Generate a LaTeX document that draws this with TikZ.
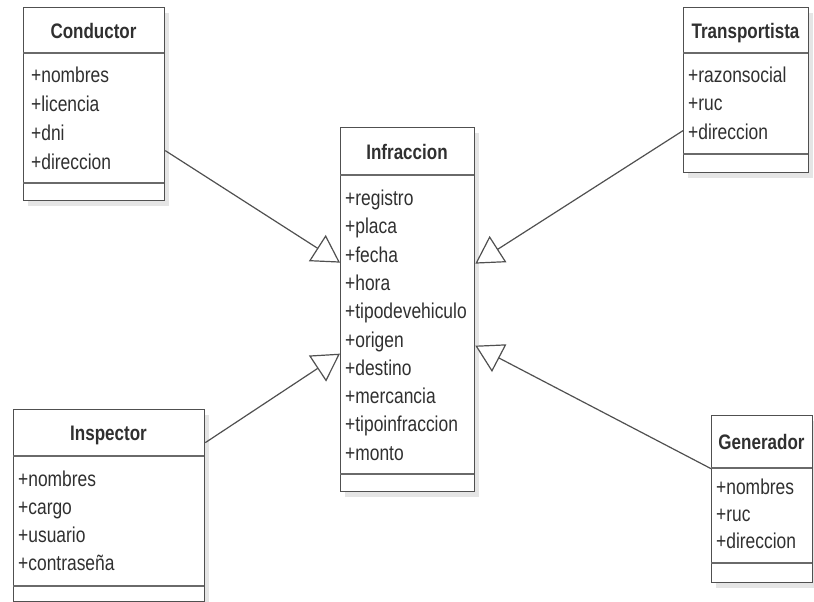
\documentclass[tikz,border=0pt]{standalone}
\usepackage{fontspec}
\setmainfont{Liberation Sans}[FakeStretch=0.81]
\usetikzlibrary{arrows.meta,shadows}
\definecolor{edgec}{HTML}{505050}
\definecolor{txtc}{HTML}{303030}
\begin{document}
\begin{tikzpicture}[x=1pt,y=-1pt,
  cls/.style={draw=edgec, line width=1.3pt, fill=white, anchor=north west, inner sep=0pt,
    drop shadow={shadow xshift=4pt, shadow yshift=-5pt, fill=black!10, opacity=1}},
  sepline/.style={draw=edgec!85, line width=2.2pt},
  ttl/.style={font=\bfseries\fontsize{21}{23}\selectfont, text=txtc, inner sep=0pt, text height=21pt, text depth=4.5pt},
  attr/.style={font=\fontsize{21.5}{23}\selectfont, text=txtc, anchor=west, inner sep=0pt, text height=19.5pt, text depth=4.5pt},
  gen/.style={draw=edgec, line width=1.2pt, -{Triangle[open, length=27pt, width=31pt, fill=white, line width=1.2pt]}}
]
\useasboundingbox[fill=white] (0,0) rectangle (814,602);

% Conductor
\node[cls, minimum width=141pt, minimum height=193pt] (conductor) at (23,7) {};
\draw[sepline] (conductor.north west) ++(0,46) -- ++(141,0);
\draw[sepline] (conductor.north west) ++(0,176) -- ++(141,0);
\node[ttl] (conductorT) at (93.5,30) {Conductor};
\node[attr] (c_a1) at (31,75) {+nombres};
\node[attr] (c_a2) at (31,104) {+licencia};
\node[attr] (c_a3) at (31,133) {+dni};
\node[attr] (c_a4) at (31,162) {+direccion};

% Infraccion
\node[cls, minimum width=134pt, minimum height=364pt] (infraccion) at (340,127) {};
\draw[sepline] (infraccion.north west) ++(0,48) -- ++(134,0);
\draw[sepline] (infraccion.north west) ++(0,347) -- ++(134,0);
\node[ttl] (infraccionT) at (407,151) {Infraccion};
\node[attr] (i_a1) at (345,198) {+registro};
\node[attr] (i_a2) at (345,226.3) {+placa};
\node[attr] (i_a3) at (345,254.6) {+fecha};
\node[attr] (i_a4) at (345,282.9) {+hora};
\node[attr] (i_a5) at (345,311.2) {+tipodevehiculo};
\node[attr] (i_a6) at (345,339.5) {+origen};
\node[attr] (i_a7) at (345,367.8) {+destino};
\node[attr] (i_a8) at (345,396.1) {+mercancia};
\node[attr] (i_a9) at (345,424.4) {+tipoinfraccion};
\node[attr] (i_a10) at (345,452.7) {+monto};

% Transportista
\node[cls, minimum width=125pt, minimum height=165pt] (transportista) at (683,7) {};
\draw[sepline] (transportista.north west) ++(0,46) -- ++(125,0);
\draw[sepline] (transportista.north west) ++(0,147) -- ++(125,0);
\node[ttl] (transportistaT) at (745.5,30) {Transportista};
\node[attr] (t_a1) at (688,75) {+razonsocial};
\node[attr] (t_a2) at (688,103) {+ruc};
\node[attr] (t_a3) at (688,132) {+direccion};

% Inspector
\node[cls, minimum width=191pt, minimum height=192pt] (inspector) at (13,409) {};
\draw[sepline] (inspector.north west) ++(0,47) -- ++(191,0);
\draw[sepline] (inspector.north west) ++(0,177) -- ++(191,0);
\node[ttl] (inspectorT) at (108.5,432) {Inspector};
\node[attr] (s_a1) at (18,479) {+nombres};
\node[attr] (s_a2) at (18,507) {+cargo};
\node[attr] (s_a3) at (18,535) {+usuario};
\node[attr] (s_a4) at (18,563) {+contraseña};

% Generador
\node[cls, minimum width=101pt, minimum height=167pt] (generador) at (711,415) {};
\draw[sepline] (generador.north west) ++(0,53) -- ++(101,0);
\draw[sepline] (generador.north west) ++(0,148) -- ++(101,0);
\node[ttl] (generadorT) at (761.5,441) {Generador};
\node[attr] (g_a1) at (716,487) {+nombres};
\node[attr] (g_a2) at (716,514) {+ruc};
\node[attr] (g_a3) at (716,541) {+direccion};

% Generalizations
\draw[gen] ([yshift=-46.5pt]conductor.east) -- ([yshift=47pt]infraccion.west);
\draw[gen] ([yshift=-40.5pt]transportista.west) -- ([yshift=46pt]infraccion.east);
\draw[gen] ([yshift=63pt]inspector.east) -- ([yshift=-44pt]infraccion.west);
\draw[gen] ([yshift=30.5pt]generador.west) -- ([yshift=-36pt]infraccion.east);
\end{tikzpicture}
\end{document}
